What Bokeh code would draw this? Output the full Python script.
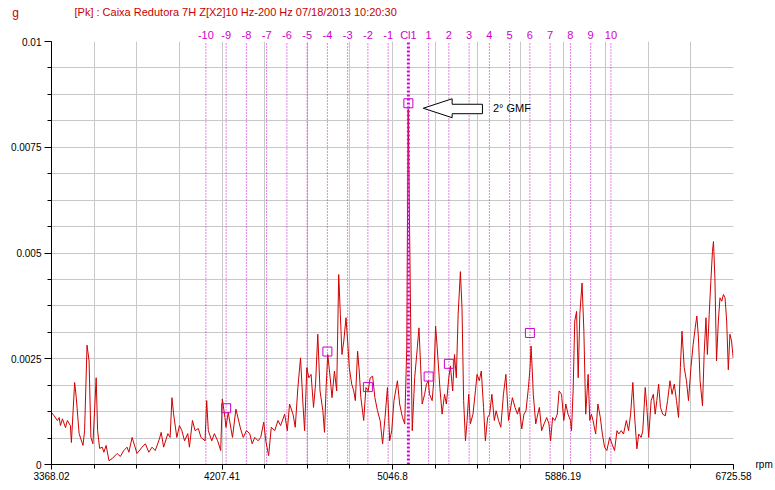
from bokeh.plotting import figure
from bokeh.models import (Range1d, FixedTicker, LinearAxis, Label, PolyAnnotation)
from bokeh.embed import file_html
from bokeh.resources import INLINE

# ---------------- data ----------------
TITLE_UNIT = "g"
TITLE = "[Pk] : Caixa Redutora 7H Z[X2]10 Hz-200 Hz 07/18/2013 10:20:30"
X_UNIT = "rpm"
X_TICKS = [3368.02, 4207.41, 5046.8, 5886.19, 6725.58]
X_TICK_LABELS = ["3368.02", "4207.41", "5046.8", "5886.19", "6725.58"]
Y_TICKS = [0.0, 0.0025, 0.005, 0.0075, 0.01]
Y_TICK_LABELS = ["0", "0.0025", "0.005", "0.0075", "0.01"]

RPM = [
    3368, 3381, 3397, 3406, 3412, 3422, 3437, 3446, 3461, 3466,
    3482, 3490, 3504, 3523, 3531, 3543, 3553, 3562, 3572, 3588,
    3595, 3605, 3618, 3626, 3637, 3651, 3667, 3691, 3707, 3724,
    3740, 3749, 3765, 3789, 3814, 3830, 3847, 3863, 3879, 3899,
    3908, 3920, 3941, 3952, 3961, 3969, 3985, 3998, 4010, 4023,
    4039, 4047, 4062, 4075, 4091, 4104, 4124, 4132, 4140, 4157,
    4170, 4186, 4201, 4209, 4222, 4227, 4238, 4259, 4276, 4299,
    4312, 4328, 4344, 4356, 4369, 4385, 4398, 4413, 4423, 4437,
    4450, 4467, 4483, 4496, 4516, 4529, 4540, 4557, 4568, 4581,
    4594, 4606, 4614, 4625, 4635, 4646, 4658, 4668, 4679, 4690,
    4704, 4712, 4720, 4728, 4740, 4749, 4761, 4772, 4782, 4790,
    4798, 4807, 4818, 4826, 4834, 4846, 4856, 4864, 4875, 4883,
    4891, 4905, 4916, 4927, 4937, 4949, 4960, 4973, 4986, 4998,
    5010, 5022, 5033, 5043, 5054, 5071, 5082, 5096, 5107, 5117,
    5124, 5136, 5144, 5156, 5169, 5177, 5185, 5193, 5205, 5214,
    5223, 5229, 5242, 5250, 5259, 5267, 5280, 5291, 5303, 5312,
    5324, 5332, 5343, 5352, 5361, 5370, 5381, 5389, 5397, 5406,
    5414, 5422, 5430, 5443, 5455, 5463, 5474, 5484, 5495, 5504,
    5515, 5525, 5536, 5548, 5557, 5569, 5580, 5593, 5605, 5618,
    5637, 5650, 5662, 5671, 5683, 5694, 5704, 5716, 5724, 5729,
    5735, 5740, 5752, 5762, 5770, 5781, 5793, 5806, 5817, 5825,
    5835, 5846, 5858, 5867, 5879, 5890, 5900, 5911, 5923, 5928,
    5936, 5944, 5953, 5961, 5969, 5980, 5989, 5998, 6010, 6018,
    6026, 6034, 6047, 6058, 6070, 6080, 6091, 6102, 6116, 6127,
    6140, 6152, 6161, 6173, 6184, 6198, 6209, 6219, 6230, 6238,
    6250, 6259, 6271, 6279, 6291, 6299, 6308, 6320, 6331, 6340,
    6348, 6357, 6366, 6377, 6390, 6401, 6413, 6423, 6434, 6445,
    6455, 6464, 6472, 6483, 6494, 6504, 6516, 6527, 6537, 6545,
    6553, 6561, 6573, 6581, 6590, 6597, 6606, 6614, 6622, 6627,
    6634, 6642, 6651, 6659, 6668, 6676, 6684, 6692, 6700, 6708,
    6716, 6724,
]

AMP = [
    0.00123, 0.00115, 0.00104, 0.00111, 0.00092, 0.00108, 0.00087, 0.00104, 0.00092, 0.00052,
    0.00194, 0.00158, 0.00073, 0.00045, 0.00080, 0.00282, 0.00245, 0.00064, 0.00049, 0.00205,
    0.00080, 0.00038, 0.00041, 0.00029, 0.00045, 0.00009, 0.00014, 0.00026, 0.00019, 0.00033,
    0.00041, 0.00029, 0.00064, 0.00026, 0.00041, 0.00049, 0.00029, 0.00041, 0.00033, 0.00060,
    0.00076, 0.00041, 0.00073, 0.00064, 0.00158, 0.00120, 0.00064, 0.00092, 0.00080, 0.00056,
    0.00073, 0.00041, 0.00104, 0.00080, 0.00085, 0.00064, 0.00056, 0.00151, 0.00080, 0.00056,
    0.00073, 0.00056, 0.00033, 0.00155, 0.00111, 0.00088, 0.00123, 0.00064, 0.00131, 0.00084,
    0.00064, 0.00080, 0.00073, 0.00049, 0.00064, 0.00056, 0.00064, 0.00100, 0.00056, 0.00021,
    0.00088, 0.00080, 0.00104, 0.00092, 0.00119, 0.00080, 0.00143, 0.00119, 0.00088, 0.00182,
    0.00252, 0.00143, 0.00080, 0.00229, 0.00205, 0.00213, 0.00135, 0.00190, 0.00308, 0.00174,
    0.00127, 0.00076, 0.00182, 0.00260, 0.00205, 0.00158, 0.00221, 0.00174, 0.00449, 0.00355,
    0.00260, 0.00292, 0.00347, 0.00292, 0.00229, 0.00190, 0.00174, 0.00151, 0.00268, 0.00221,
    0.00158, 0.00104, 0.00182, 0.00174, 0.00205, 0.00209, 0.00158, 0.00127, 0.00104, 0.00049,
    0.00111, 0.00182, 0.00056, 0.00080, 0.00151, 0.00198, 0.00143, 0.00111, 0.00096, 0.00276,
    0.00840, 0.00347, 0.00080, 0.00205, 0.00276, 0.00323, 0.00237, 0.00143, 0.00166, 0.00190,
    0.00198, 0.00166, 0.00151, 0.00198, 0.00327, 0.00276, 0.00182, 0.00119, 0.00166, 0.00143,
    0.00205, 0.00233, 0.00174, 0.00260, 0.00205, 0.00355, 0.00456, 0.00370, 0.00151, 0.00056,
    0.00104, 0.00166, 0.00096, 0.00119, 0.00174, 0.00213, 0.00198, 0.00221, 0.00135, 0.00056,
    0.00111, 0.00119, 0.00166, 0.00104, 0.00127, 0.00104, 0.00088, 0.00166, 0.00213, 0.00104,
    0.00158, 0.00135, 0.00119, 0.00135, 0.00084, 0.00119, 0.00127, 0.00182, 0.00229, 0.00280,
    0.00221, 0.00166, 0.00096, 0.00119, 0.00135, 0.00080, 0.00096, 0.00111, 0.00096, 0.00056,
    0.00111, 0.00104, 0.00119, 0.00174, 0.00166, 0.00104, 0.00143, 0.00119, 0.00104, 0.00080,
    0.00174, 0.00339, 0.00362, 0.00205, 0.00355, 0.00429, 0.00315, 0.00119, 0.00213, 0.00104,
    0.00119, 0.00104, 0.00072, 0.00143, 0.00111, 0.00072, 0.00041, 0.00033, 0.00064, 0.00049,
    0.00033, 0.00080, 0.00072, 0.00080, 0.00072, 0.00104, 0.00080, 0.00119, 0.00194, 0.00119,
    0.00037, 0.00072, 0.00064, 0.00080, 0.00182, 0.00135, 0.00064, 0.00151, 0.00166, 0.00119,
    0.00151, 0.00190, 0.00135, 0.00119, 0.00115, 0.00151, 0.00198, 0.00166, 0.00190, 0.00151,
    0.00111, 0.00229, 0.00315, 0.00229, 0.00198, 0.00151, 0.00229, 0.00284, 0.00323, 0.00351,
    0.00300, 0.00198, 0.00139, 0.00260, 0.00347, 0.00260, 0.00355, 0.00433, 0.00504, 0.00527,
    0.00441, 0.00245, 0.00339, 0.00394, 0.00386, 0.00402, 0.00394, 0.00339, 0.00224, 0.00308,
    0.00292, 0.00252,
]

GMF_RPM = 5125.0          # 2nd gear-mesh frequency (cursor C1)
SB_SPACING = 99.7         # sideband spacing, rpm
SB_ORDERS = list(range(-10, 11))
SB_LABELS = ["-10", "-9", "-8", "-7", "-6", "-5", "-4", "-3", "-2", "-1", "Cl1",
             "1", "2", "3", "4", "5", "6", "7", "8", "9", "10"]
MARK_ORDERS = [-9, -4, -2, 0, 1, 2, 6]
MARK_AMP = [0.00133, 0.00267, 0.00183, 0.00854, 0.00208, 0.00238, 0.00311]
ANNOT_TEXT = "2° GMF"

# ---------------- style / layout ----------------
FONT = "Liberation Sans"
FS = "10px"
RED = "#D00000"
MAGENTA = "#CC00CC"
GRID = "#C8C8C8"
W, H = 775, 490
ML, MT = 49, 39
FRAME_W, FRAME_H = 686, 425
MR, MB = W - ML - FRAME_W, H - MT - FRAME_H

x0, x1 = X_TICKS[0], X_TICKS[-1]
y0, y1 = Y_TICKS[0], Y_TICKS[-1]
PX_X = (x1 - x0) / FRAME_W
PX_Y = (y1 - y0) / FRAME_H

p = figure(width=W, height=H, x_range=Range1d(x0, x1), y_range=Range1d(y0, y1),
           output_backend="svg", toolbar_location=None,
           min_border_left=ML, min_border_right=MR, min_border_top=MT, min_border_bottom=MB)
p.outline_line_color = None
p.background_fill_color = "white"
p.border_fill_color = "white"

grid_x = [x0 + i * (x1 - x0) / 16 for i in range(17)]
grid_y = [y0 + i * (y1 - y0) / 16 for i in range(17)]

p.xaxis.ticker = FixedTicker(ticks=X_TICKS, minor_ticks=grid_x)
p.yaxis.ticker = FixedTicker(ticks=Y_TICKS, minor_ticks=grid_y)
p.xaxis.major_label_overrides = dict(zip(X_TICKS, X_TICK_LABELS))
p.yaxis.major_label_overrides = dict(zip(Y_TICKS, Y_TICK_LABELS))
p.xgrid.ticker = FixedTicker(ticks=grid_x)
p.ygrid.ticker = FixedTicker(ticks=grid_y)
for g in (p.xgrid, p.ygrid):
    g.grid_line_color = GRID
    g.grid_line_width = 1

for ax in (p.xaxis, p.yaxis):
    ax.axis_line_color = "black"
    ax.major_tick_line_color = "black"
    ax.minor_tick_line_color = "black"
    ax.major_tick_in = 0
    ax.minor_tick_in = 0
    ax.major_label_text_font = FONT
    ax.major_label_text_font_size = FS
    ax.major_label_text_color = "black"
p.xaxis.major_tick_out = 5
p.xaxis.minor_tick_out = 4
p.xaxis.major_label_standoff = 2
p.yaxis.major_tick_out = 7
p.yaxis.minor_tick_out = 4
p.yaxis.major_label_standoff = 3

# sideband positions
sb_x = [GMF_RPM + k * SB_SPACING for k in SB_ORDERS]

# sideband labels: top axis
sb_axis = LinearAxis(ticker=FixedTicker(ticks=sb_x, minor_ticks=[]),
                     major_label_overrides=dict(zip(sb_x, SB_LABELS)),
                     axis_line_color=None, major_tick_line_color=None,
                     minor_tick_line_color=None, major_tick_out=0, major_tick_in=0,
                     major_label_standoff=1, major_label_text_color=MAGENTA,
                     major_label_text_font=FONT, major_label_text_font_size="11px")
p.add_layout(sb_axis, "above")

# x unit: right axis label at the baseline
unit_axis = LinearAxis(ticker=FixedTicker(ticks=[y0], minor_ticks=[]),
                       major_label_overrides={y0: X_UNIT},
                       axis_line_color=None, major_tick_line_color=None,
                       minor_tick_line_color=None, major_tick_out=0, major_tick_in=0,
                       major_label_standoff=22, major_label_text_color="black",
                       major_label_text_font=FONT, major_label_text_font_size=FS)
p.add_layout(unit_axis, "right")

# title
p.title.text = TITLE
p.title.align = "left"
p.title.offset = 23
p.title.text_color = "#C80000"
p.title.text_font = FONT
p.title.text_font_size = "11px"
p.title.text_font_style = "normal"
p.title.standoff = 11
p.title.vertical_align = "top"

# unit "g" at top-left (placed in the left side panel so it is not clipped)
p.add_layout(Label(x=x0 - 36 * PX_X, y=y1 + 29 * PX_Y, text=TITLE_UNIT, text_color="#C80000",
                   text_font=FONT, text_font_size="12px", text_align="center",
                   text_baseline="middle"), "left")

# sideband cursor lines
side_x = [x for k, x in zip(SB_ORDERS, sb_x) if k != 0]
p.segment(x0=side_x, y0=[y0] * len(side_x), x1=side_x, y1=[y1] * len(side_x),
          line_color=MAGENTA, line_width=1, line_dash="1 2")

# spectrum
p.line(RPM, AMP, line_color=RED, line_width=1)

# central cursor
p.segment(x0=[GMF_RPM], y0=[y0], x1=[GMF_RPM], y1=[y1],
          line_color="#E000E0", line_width=3, line_dash="2 2")

# markers
mark_x = [GMF_RPM + k * SB_SPACING for k in MARK_ORDERS]
p.scatter(mark_x, MARK_AMP, marker="square", size=9, fill_color=None,
          line_color=MAGENTA, line_width=1)

# hollow arrow pointing at the 2nd GMF marker
tip_x = GMF_RPM + 15 * PX_X
tip_y = MARK_AMP[MARK_ORDERS.index(0)] - 5 * PX_Y
shape = [(0, 0), (29, -9.5), (29, -4), (59.5, -4), (59.5, 5.5), (29, 5.5), (29, 9.5)]
p.add_layout(PolyAnnotation(xs=[tip_x + dx * PX_X for dx, dy in shape],
                            ys=[tip_y - dy * PX_Y for dx, dy in shape],
                            fill_color="white", fill_alpha=1, line_color="black",
                            line_alpha=1, line_width=1))
p.add_layout(Label(x=tip_x + 70 * PX_X, y=tip_y, text=ANNOT_TEXT, text_color="black",
                   text_font=FONT, text_font_size="11px", text_align="left",
                   text_baseline="middle"))

open("out.html", "w").write(file_html(p, INLINE))
